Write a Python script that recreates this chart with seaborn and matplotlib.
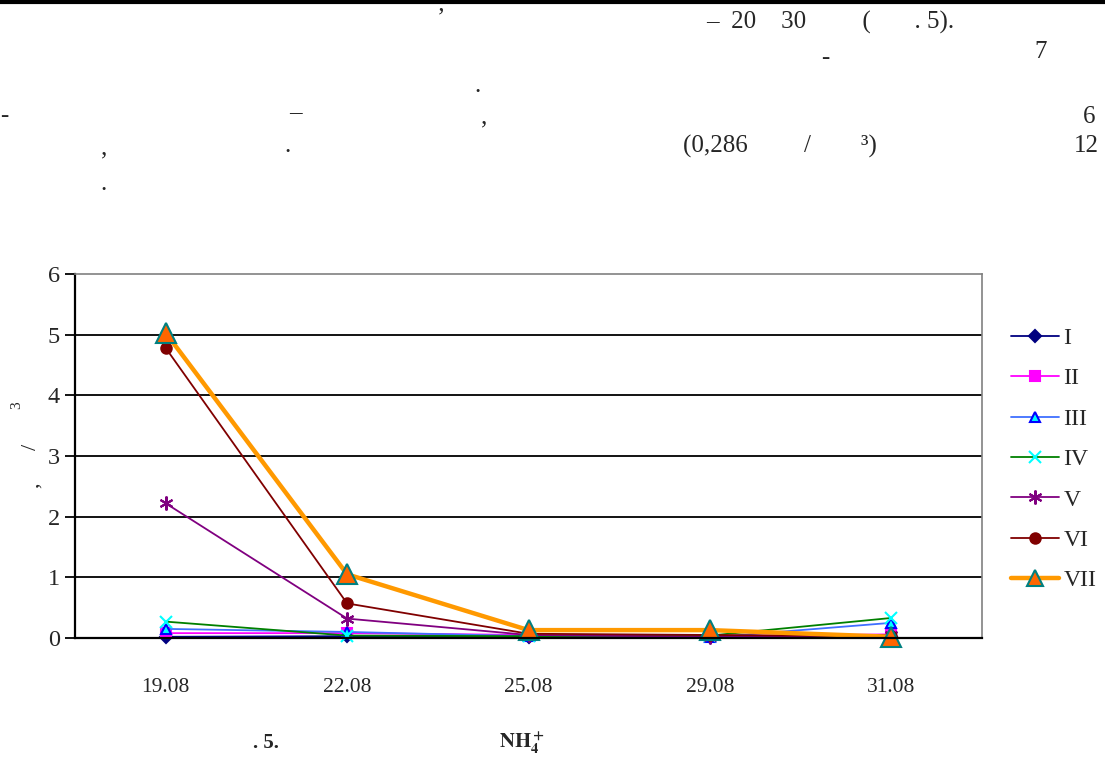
import numpy as np
import pandas as pd
import matplotlib
matplotlib.use("Agg")
import matplotlib.pyplot as plt
from matplotlib.lines import Line2D
import seaborn as sns

# Sampling dates and NH4+ concentration per station (I..VII)
dates = ["19.08", "22.08", "25.08", "29.08", "31.08"]
stations = ["I", "II", "III", "IV", "V", "VI", "VII"]
st_I = [0.02, 0.03, 0.02, 0.02, 0.02]
st_II = [0.08, 0.08, 0.05, 0.03, 0.06]
st_III = [0.15, 0.10, 0.03, 0.01, 0.25]
st_IV = [0.27, 0.04, 0.03, 0.04, 0.33]
st_V = [2.22, 0.32, 0.05, 0.02, 0.05]
st_VI = [4.78, 0.57, 0.07, 0.05, 0.03]
st_VII = [5.03, 1.05, 0.13, 0.13, 0.02]
y_ticks = [0, 1, 2, 3, 4, 5, 6]

values = [st_I, st_II, st_III, st_IV, st_V, st_VI, st_VII]
df = pd.DataFrame({
    "date": dates * len(stations),
    "station": np.repeat(stations, len(dates)),
    "value": np.concatenate(values),
})

sns.set_theme(style="white")
plt.rcParams["font.family"] = ["Liberation Serif", "DejaVu Serif"]
plt.rcParams["mathtext.fontset"] = "stix"

W, H = 1105, 774
fig = plt.figure(figsize=(W / 100, H / 100), dpi=100)
ax = fig.add_axes([75 / W, 1 - 638 / H, (982 - 75) / W, (638 - 274) / H])

styles = {
    "I":   dict(color="#000080", marker="D", mfc="#000080", mec="#000080", ms=6.5, lw=1.3),
    "II":  dict(color="#FF00FF", marker="s", mfc="#FF00FF", mec="#FF00FF", ms=6.5, lw=1.3),
    "III": dict(color="#3F6FFF", marker="^", mfc="#00FFFF", mec="#0000FF", ms=7.5, lw=1.3),
    "IV":  dict(color="#008000", marker="x", mfc="#00FFFF", mec="#00FFFF", ms=8, lw=1.3),
    "V":   dict(color="#800080", marker=(6, 2, 0), mfc="#800080", mec="#800080", ms=10, lw=1.3),
    "VI":  dict(color="#800000", marker="o", mfc="#800000", mec="#800000", ms=7.5, lw=1.3),
    "VII": dict(color="#FF9900", marker="^", mfc="#FF6600", mec="#008080", ms=14, lw=3.2),
}

for st in stations:
    s = styles[st]
    sub = df[df["station"] == st]
    sns.lineplot(data=sub, x="date", y="value", ax=ax, sort=False,
                 color=s["color"], linewidth=s["lw"], marker=s["marker"],
                 markerfacecolor=s["mfc"], markeredgecolor=s["mec"],
                 markeredgewidth=1.5, markersize=s["ms"], label=st,
                 legend=False, clip_on=False)

ax.set_xlim(-0.5, len(dates) - 0.5)
ax.set_ylim(0, 6)
ax.set_xlabel("")
ax.set_ylabel("")

# category labels centred, tick marks on category boundaries
ax.set_xticks(range(len(dates)))
ax.set_xticklabels(dates, fontsize=15.5)
ax.tick_params(axis="x", which="major", length=0, pad=29)
ax.set_xticks(np.arange(len(dates) + 1) - 0.5, minor=True)
ax.tick_params(axis="x", which="minor", direction="out", length=12, width=1.3, color="black")

ax.set_yticks(y_ticks)
ax.set_yticklabels([str(t) for t in y_ticks], fontsize=17.5)
ax.tick_params(axis="y", direction="out", length=7, width=1.3, color="black", pad=4, left=True)

for t in y_ticks[1:-1]:
    ax.axhline(t, color="black", lw=1.3, zorder=0.5)

for side in ["top", "right"]:
    ax.spines[side].set_color("#808080")
    ax.spines[side].set_linewidth(1.2)
for side in ["left", "bottom"]:
    ax.spines[side].set_color("black")
    ax.spines[side].set_linewidth(1.6)

# legend on the right
handles = []
for st in stations:
    s = styles[st]
    handles.append(Line2D([], [], color=s["color"], lw=s["lw"], marker=s["marker"],
                          markerfacecolor=s["mfc"], markeredgecolor=s["mec"],
                          markeredgewidth=1.5,
                          markersize=s["ms"] if st != "VII" else 12))
leg = fig.legend(handles, stations, loc="upper left",
                 bbox_to_anchor=(1002 / W, 1 - 318 / H), frameon=False,
                 fontsize=17, handlelength=2.0, handletextpad=0.2,
                 labelspacing=0.8, borderaxespad=0)


def ptext(x, y, s, **kw):
    kw.setdefault("fontsize", 18)
    fig.text(x / W, 1 - y / H, s, ha=kw.pop("ha", "center"), va=kw.pop("va", "center"), **kw)


# body text above the figure
fig.add_artist(Line2D([0, 1], [1 - 1.5 / H, 1 - 1.5 / H], color="black", lw=3))
ptext(441, 18, "’")
ptext(706, 22, "–  20    30         (       . 5).", ha="left")
ptext(825, 58, "-")
ptext(1041, 52, "7")
ptext(478, 86, ".")
ptext(4, 116, "-")
ptext(295, 112, "–")
ptext(484, 117, ",")
ptext(1089, 117, "6")
ptext(104, 148, ",")
ptext(288, 146, ".")
ptext(683, 146, "(0,286         /        ³)", ha="left")
ptext(1086, 146, "12")
ptext(104, 184, ".")

# y-axis caption fragments
ptext(33, 485, ",", rotation=90, fontsize=16)
ptext(31, 447, "/", rotation=90, fontsize=16)
ptext(17, 405, "3", rotation=90, fontsize=11)

# figure caption
ptext(266, 743, ". 5.", fontweight="bold", fontsize=15)
ptext(522, 743, r"$\mathbf{NH_4^+}$", fontsize=15)

fig.savefig("out.png", dpi=100, facecolor="white")
